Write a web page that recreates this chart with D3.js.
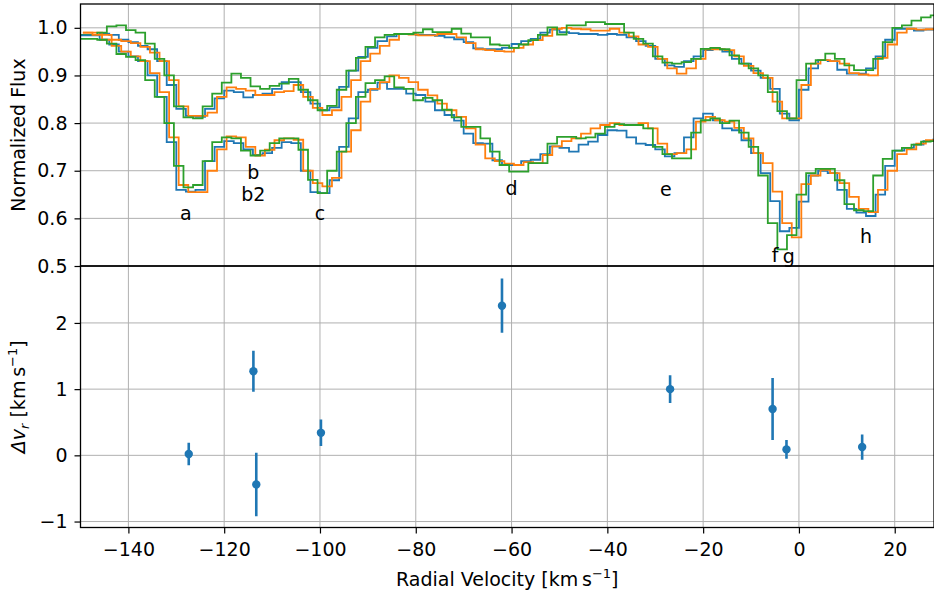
<!DOCTYPE html>
<html>
<head>
<meta charset="utf-8">
<script src="https://cdn.jsdelivr.net/npm/d3@7"></script>
<style>
body { margin: 0; background: #fff; }
text { font-family: "DejaVu Sans", sans-serif; }
</style>
</head>
<body>
<div id="chart"></div>
<script>
// velocity bins are 2 km/s wide, each series has its own first bin edge
var binWidth = 2;
var blueStart = -150, orangeStart = -149.5, greenStart = -150.5;

// upper set of spectra (weaker lines)
var blueUpper = [0.985,0.985,0.988,0.985,0.975,0.97,0.962,0.955,0.93,0.88,
  0.83,0.815,0.813,0.83,0.852,0.868,0.865,0.854,0.859,0.862,
  0.872,0.886,0.886,0.865,0.841,0.827,0.833,0.876,0.91,0.939,
  0.958,0.972,0.982,0.987,0.987,0.985,0.985,0.983,0.98,0.976,
  0.97,0.957,0.955,0.955,0.958,0.966,0.972,0.977,0.99,0.996,
  0.991,0.989,0.987,0.987,0.985,0.987,0.985,0.98,0.972,0.962,
  0.935,0.921,0.918,0.93,0.94,0.953,0.956,0.95,0.935,0.925,
  0.91,0.895,0.872,0.82,0.806,0.87,0.915,0.932,0.93,0.912,
  0.904,0.904,0.915,0.94,0.975,0.998,0.998,0.994,0.996,0.997];
var orangeUpper = [0.99,0.99,0.985,0.975,0.972,0.968,0.96,0.948,0.93,0.89,
  0.835,0.815,0.815,0.822,0.855,0.875,0.872,0.868,0.859,0.859,
  0.865,0.867,0.88,0.855,0.832,0.817,0.827,0.855,0.89,0.93,
  0.946,0.962,0.975,0.987,0.986,0.984,0.984,0.987,0.987,0.98,
  0.968,0.955,0.953,0.951,0.95,0.958,0.965,0.974,0.983,0.998,
  1.0,0.998,0.997,0.994,0.994,0.998,0.99,0.982,0.965,0.96,
  0.935,0.915,0.904,0.915,0.935,0.955,0.955,0.953,0.94,0.92,
  0.905,0.895,0.845,0.81,0.81,0.88,0.925,0.932,0.93,0.925,
  0.905,0.902,0.9,0.937,0.965,0.99,0.998,0.996,0.997,1.0];
var greenUpper = [0.985,0.985,0.99,1.003,1.005,0.995,0.99,0.967,0.935,0.9,
  0.835,0.812,0.81,0.835,0.862,0.885,0.904,0.895,0.877,0.872,
  0.878,0.883,0.893,0.87,0.848,0.827,0.836,0.87,0.91,0.937,
  0.96,0.98,0.985,0.987,0.987,0.99,0.997,0.991,0.991,0.998,
  0.988,0.98,0.98,0.965,0.963,0.958,0.965,0.974,0.985,1.001,
  0.986,1.005,1.005,1.012,1.012,1.008,1.008,0.99,0.977,0.967,
  0.94,0.927,0.925,0.928,0.935,0.956,0.958,0.955,0.942,0.925,
  0.915,0.9,0.865,0.825,0.81,0.89,0.925,0.932,0.946,0.935,
  0.921,0.911,0.911,0.935,0.97,1.0,1.005,1.015,1.022,1.026];

// lower set of spectra (stronger lines)
var blueLower = [0.984,0.984,0.975,0.965,0.95,0.94,0.93,0.9,0.855,0.76,
  0.66,0.656,0.66,0.72,0.75,0.762,0.758,0.745,0.733,0.737,
  0.748,0.76,0.758,0.7,0.655,0.653,0.68,0.75,0.81,0.865,
  0.87,0.885,0.872,0.872,0.862,0.859,0.845,0.827,0.817,0.805,
  0.778,0.758,0.757,0.722,0.712,0.712,0.72,0.723,0.735,0.751,
  0.748,0.74,0.755,0.761,0.775,0.785,0.784,0.77,0.757,0.754,
  0.745,0.73,0.737,0.77,0.81,0.82,0.806,0.789,0.785,0.764,
  0.737,0.695,0.636,0.573,0.58,0.635,0.69,0.7,0.695,0.66,
  0.62,0.612,0.605,0.65,0.71,0.742,0.748,0.755,0.762,0.765];
var orangeLower = [0.99,0.985,0.975,0.962,0.95,0.94,0.93,0.905,0.865,0.77,
  0.67,0.655,0.655,0.7,0.745,0.772,0.77,0.75,0.732,0.744,
  0.764,0.768,0.765,0.7,0.674,0.667,0.685,0.74,0.785,0.845,
  0.872,0.886,0.9,0.895,0.886,0.87,0.858,0.841,0.827,0.813,
  0.789,0.755,0.726,0.72,0.715,0.712,0.718,0.716,0.733,0.751,
  0.762,0.768,0.778,0.789,0.796,0.8,0.796,0.796,0.8,0.789,
  0.757,0.735,0.737,0.745,0.803,0.813,0.806,0.803,0.79,0.768,
  0.737,0.716,0.656,0.59,0.56,0.672,0.69,0.702,0.695,0.674,
  0.645,0.62,0.613,0.66,0.7,0.735,0.745,0.757,0.764,0.768];
var greenLower = [0.977,0.977,0.975,0.967,0.945,0.939,0.932,0.89,0.855,0.8,
  0.71,0.665,0.67,0.72,0.76,0.77,0.768,0.742,0.732,0.742,
  0.758,0.768,0.768,0.744,0.681,0.653,0.7,0.74,0.8,0.855,
  0.884,0.89,0.898,0.875,0.872,0.848,0.853,0.848,0.828,0.812,
  0.792,0.792,0.768,0.74,0.712,0.698,0.698,0.716,0.716,0.757,
  0.771,0.771,0.768,0.77,0.778,0.792,0.798,0.796,0.796,0.789,
  0.75,0.735,0.726,0.726,0.78,0.806,0.81,0.8,0.805,0.78,
  0.75,0.69,0.59,0.535,0.565,0.65,0.695,0.704,0.704,0.68,
  0.63,0.617,0.615,0.69,0.725,0.742,0.748,0.755,0.761,0.762];

// velocity offsets of the components
var compVel = [-127.4, -113.9, -113.3, -99.8, -62.0, -26.9, -5.5, -2.6, 13.2];
var compDv = [0.02, 1.27, -0.44, 0.34, 2.26, 1.0, 0.70, 0.09, 0.125];
var compErr = [0.17, 0.31, 0.48, 0.20, 0.41, 0.21, 0.47, 0.14, 0.19];

// component labels in the flux panel
var labelText = ["a", "b", "b2", "c", "d", "e", "f", "g", "h"];
var labelVel = [-128.0, -113.9, -113.9, -100.0, -60.0, -27.8, -5.0, -2.1, 14.0];
var labelFlux = [0.611, 0.697, 0.65, 0.611, 0.664, 0.66, 0.523, 0.52, 0.563];

var xTicks = [-140, -120, -100, -80, -60, -40, -20, 0, 20];
var fluxTicks = [0.5, 0.6, 0.7, 0.8, 0.9, 1.0];
var dvTicks = [-1, 0, 1, 2];

var colors = { blue: "#1f77b4", orange: "#ff7f0e", green: "#2ca02c" };

var width = 934, height = 594;
var left = 80.5, right = 934, top1 = 4, mid = 266, bottom = 527.5;
var fs = 19, fsSmall = 13;

var svg = d3.select("#chart").append("svg")
  .attr("width", width).attr("height", height);

var x = d3.scaleLinear().domain([-150, 28.2]).range([left, right]);
var yFlux = d3.scaleLinear().domain([0.5, 1.05]).range([mid, top1]);
var yDv = d3.scaleLinear().domain([-1.09, 2.86]).range([bottom, mid]);

var fmt = d3.format("");

// clip paths
var defs = svg.append("defs");
defs.append("clipPath").attr("id", "clipTop").append("rect")
  .attr("x", left).attr("y", top1).attr("width", right - left).attr("height", mid - top1);
defs.append("clipPath").attr("id", "clipBot").append("rect")
  .attr("x", left).attr("y", mid).attr("width", right - left).attr("height", bottom - mid);

function grid(g, yScale, yTicks, y0, y1) {
  g.selectAll(".vg").data(xTicks).enter().append("line")
    .attr("x1", d => x(d)).attr("x2", d => x(d))
    .attr("y1", y0).attr("y2", y1)
    .attr("stroke", "#b0b0b0").attr("stroke-width", 1);
  g.selectAll(".hg").data(yTicks).enter().append("line")
    .attr("x1", left).attr("x2", right)
    .attr("y1", d => yScale(d)).attr("y2", d => yScale(d))
    .attr("stroke", "#b0b0b0").attr("stroke-width", 1);
}

grid(svg.append("g"), yFlux, fluxTicks, top1, mid);
grid(svg.append("g"), yDv, dvTicks, mid, bottom);

// step spectra
function stepPoints(start, vals) {
  var pts = vals.map(function(v, i) { return [start + i * binWidth, v]; });
  pts.push([start + vals.length * binWidth, vals[vals.length - 1]]);
  return pts;
}

var spectra = [
  { start: blueStart, vals: blueUpper, color: colors.blue },
  { start: orangeStart, vals: orangeUpper, color: colors.orange },
  { start: greenStart, vals: greenUpper, color: colors.green },
  { start: blueStart, vals: blueLower, color: colors.blue },
  { start: orangeStart, vals: orangeLower, color: colors.orange },
  { start: greenStart, vals: greenLower, color: colors.green }
];

var line = d3.line()
  .x(d => x(d[0]))
  .y(d => yFlux(d[1]))
  .curve(d3.curveStepAfter);

svg.append("g").attr("clip-path", "url(#clipTop)")
  .selectAll("path").data(spectra).enter().append("path")
  .attr("d", d => line(stepPoints(d.start, d.vals)))
  .attr("fill", "none")
  .attr("stroke", d => d.color)
  .attr("stroke-width", 1.8)
  .attr("stroke-linejoin", "miter");

// labels
svg.append("g").selectAll("text").data(labelText).enter().append("text")
  .attr("x", (d, i) => x(labelVel[i]))
  .attr("y", (d, i) => yFlux(labelFlux[i]))
  .attr("dy", "0.35em")
  .attr("text-anchor", "middle")
  .attr("font-size", fs)
  .text(d => d);

// error bars
var eb = svg.append("g").attr("clip-path", "url(#clipBot)");
eb.selectAll("line").data(compVel).enter().append("line")
  .attr("x1", d => x(d)).attr("x2", d => x(d))
  .attr("y1", (d, i) => yDv(compDv[i] - compErr[i]))
  .attr("y2", (d, i) => yDv(compDv[i] + compErr[i]))
  .attr("stroke", colors.blue).attr("stroke-width", 2.6);
eb.selectAll("circle").data(compVel).enter().append("circle")
  .attr("cx", d => x(d))
  .attr("cy", (d, i) => yDv(compDv[i]))
  .attr("r", 4.2)
  .attr("fill", colors.blue);

// axes
var axTop = svg.append("g").attr("transform", "translate(" + left + ",0)")
  .call(d3.axisLeft(yFlux).tickValues(fluxTicks).tickFormat(d3.format(".1f")).tickSizeOuter(0).tickSize(6).tickPadding(7));
var axDv = svg.append("g").attr("transform", "translate(" + left + ",0)")
  .call(d3.axisLeft(yDv).tickValues(dvTicks).tickFormat(fmt).tickSizeOuter(0).tickSize(6).tickPadding(7));
var axX = svg.append("g").attr("transform", "translate(0," + bottom + ")")
  .call(d3.axisBottom(x).tickValues(xTicks).tickFormat(fmt).tickSizeOuter(0).tickSize(6).tickPadding(9));

[axTop, axDv, axX].forEach(function(a) {
  a.select(".domain").remove();
  a.selectAll(".tick line").attr("stroke", "#000").attr("stroke-width", 1.2);
  a.selectAll(".tick text").attr("font-size", fs).attr("fill", "#000")
    .attr("font-family", "DejaVu Sans, sans-serif");
});

// frames
svg.append("rect").attr("x", left).attr("y", top1)
  .attr("width", right - left).attr("height", mid - top1)
  .attr("fill", "none").attr("stroke", "#000").attr("stroke-width", 1.3);
svg.append("rect").attr("x", left).attr("y", mid)
  .attr("width", right - left).attr("height", bottom - mid)
  .attr("fill", "none").attr("stroke", "#000").attr("stroke-width", 1.3);

// axis titles
svg.append("text")
  .attr("transform", "translate(25," + ((top1 + mid) / 2) + ") rotate(-90)")
  .attr("text-anchor", "middle").attr("font-size", fs)
  .text("Normalized Flux");

var dvLabel = svg.append("text")
  .attr("transform", "translate(25," + ((mid + bottom) / 2) + ") rotate(-90)")
  .attr("text-anchor", "middle").attr("font-size", fs);
dvLabel.append("tspan").attr("font-style", "italic").text("Δv");
dvLabel.append("tspan").attr("font-style", "italic").attr("font-size", fsSmall).attr("dy", 4).text("r");
dvLabel.append("tspan").attr("dy", -4).text(" [km\u2009s");
dvLabel.append("tspan").attr("font-size", fsSmall).attr("dy", -8).text("−1");
dvLabel.append("tspan").attr("dy", 8).text("]");

var xLabel = svg.append("text")
  .attr("x", (left + right) / 2).attr("y", 586)
  .attr("text-anchor", "middle").attr("font-size", fs);
xLabel.append("tspan").text("Radial Velocity [km\u2009s");
xLabel.append("tspan").attr("font-size", fsSmall).attr("dy", -8).text("−1");
xLabel.append("tspan").attr("dy", 8).text("]");
</script>
</body>
</html>
